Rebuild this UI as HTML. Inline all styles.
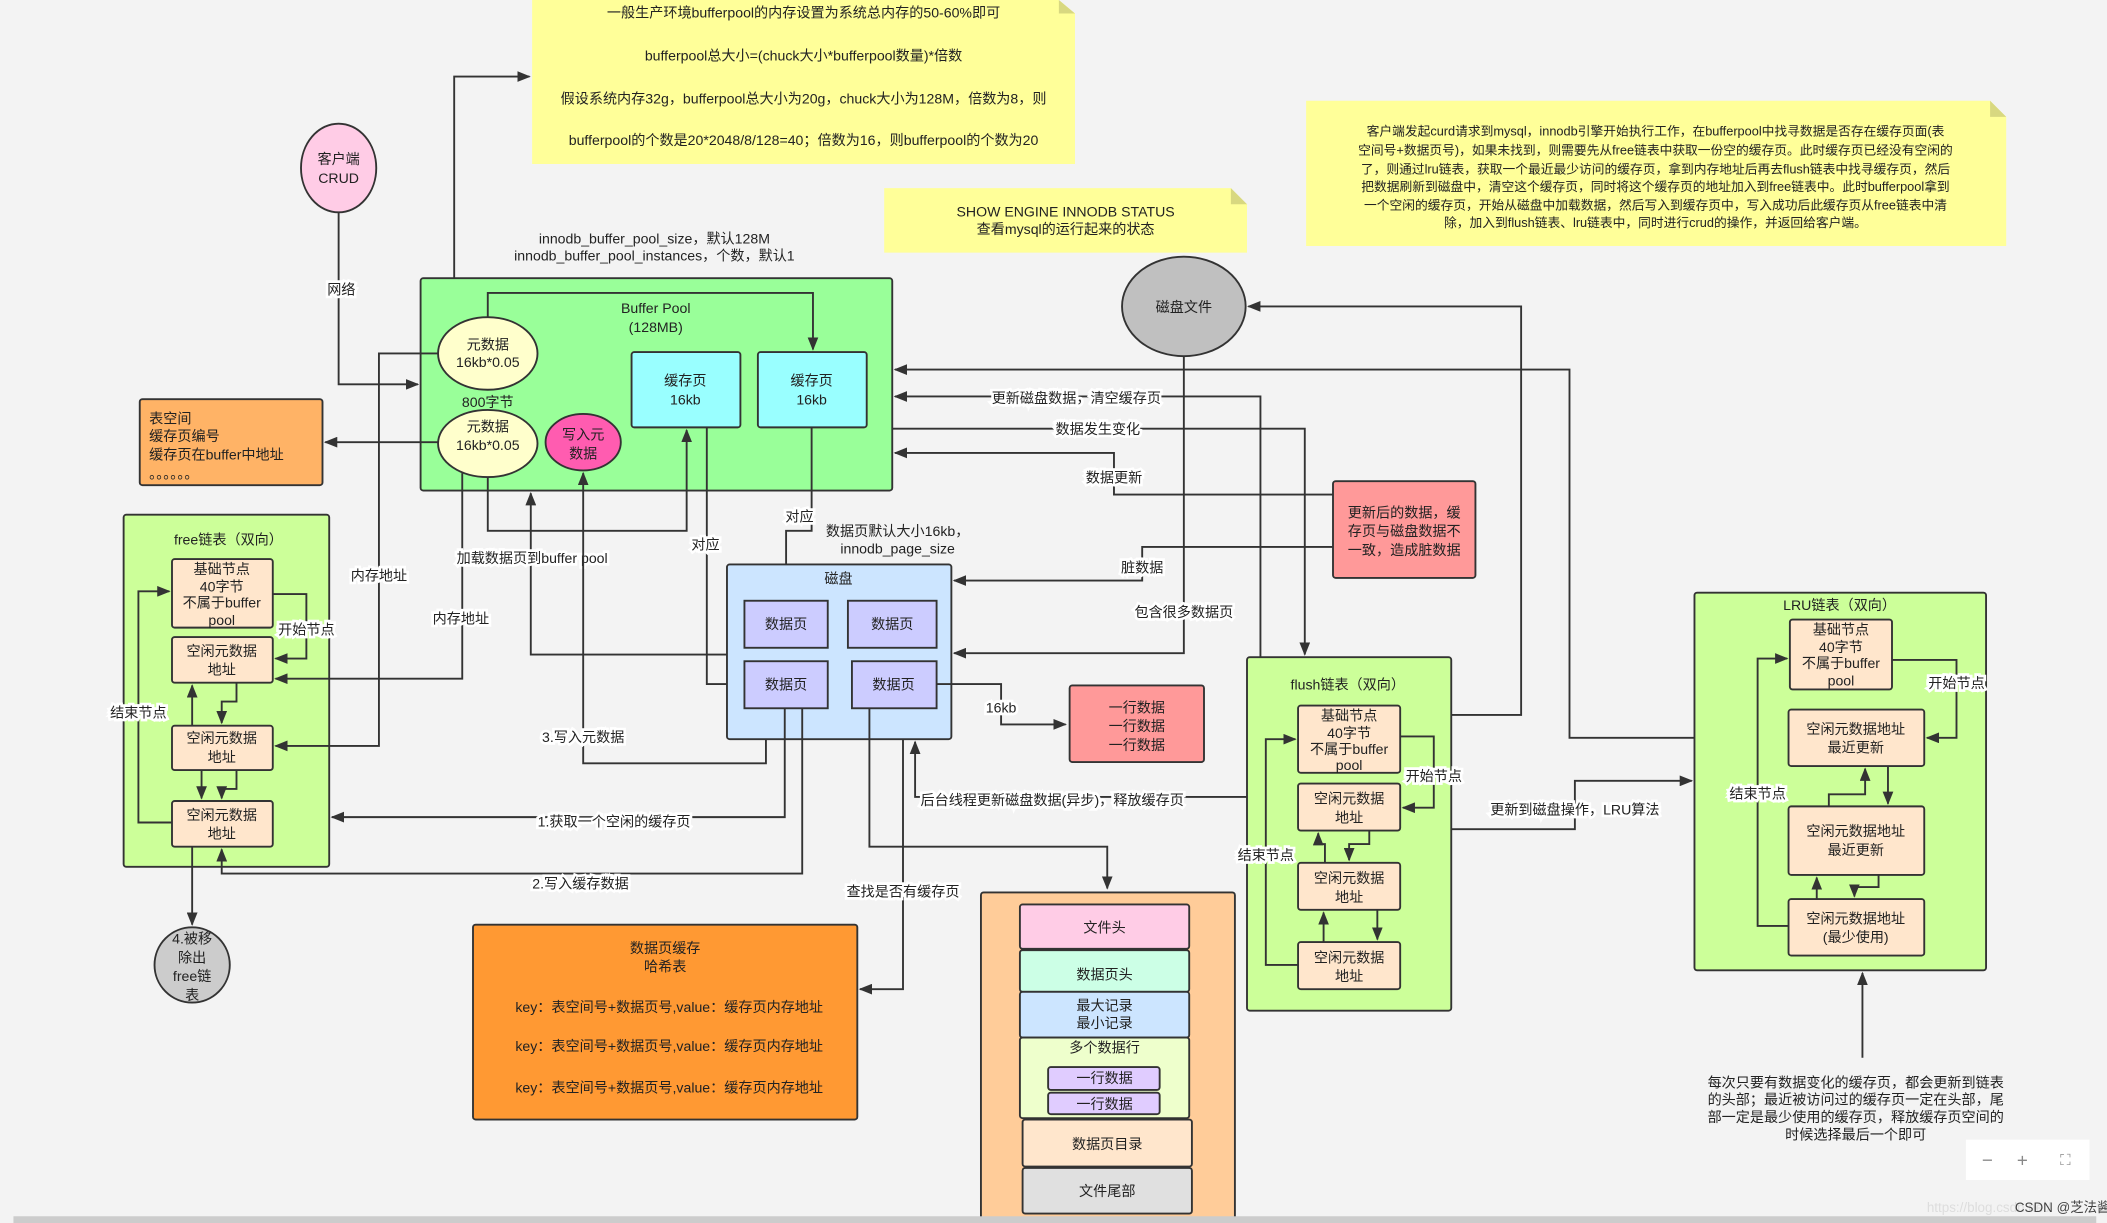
<!DOCTYPE html>
<html><head><meta charset="utf-8"><style>
html,body{margin:0;padding:0;background:#f3f3f3;}
svg{display:block}
text{font-family:"Liberation Sans","Noto Sans CJK SC",sans-serif;font-size:10.5px;fill:#222;text-anchor:middle;}
.l{fill:none;stroke:#333;stroke-width:1.4}
.b{stroke:#333;stroke-width:1.4}
.lab{paint-order:stroke;stroke:#fff;stroke-width:4px;stroke-linejoin:miter}
.s{font-size:9.5px}
</style></head><body>
<svg width="2107" height="1223" viewBox="0 0 1568 910" preserveAspectRatio="none" xmlns="http://www.w3.org/2000/svg">
<defs><marker id="a" markerWidth="10" markerHeight="8" refX="9" refY="4" orient="auto" markerUnits="userSpaceOnUse"><path d="M0,0 L10,4 L0,8 z" fill="#333"/></marker></defs>
<rect width="1568" height="910" fill="#f3f3f3"/>

<!-- yellow notes -->
<path d="M396,0 H788 L800,10 V122 H396 Z" fill="#ffff99"/><path d="M788,0 L800,10 H788 Z" fill="#d8d880"/>
<text x="598" y="13">一般生产环境bufferpool的内存设置为系统总内存的50-60%即可</text>
<text x="598" y="45">bufferpool总大小=(chuck大小*bufferpool数量)*倍数</text>
<text x="598" y="77">假设系统内存32g，bufferpool总大小为20g，chuck大小为128M，倍数为8，则</text>
<text x="598" y="108">bufferpool的个数是20*2048/8/128=40；倍数为16，则bufferpool的个数为20</text>

<path d="M658,140 H916 L928,152 V188 H658 Z" fill="#ffff99"/><path d="M916,140 L928,152 H916 Z" fill="#d8d880"/>
<text x="793" y="161">SHOW ENGINE INNODB STATUS</text>
<text x="793" y="174">查看mysql的运行起来的状态</text>

<path d="M972,75 H1481 L1493,87 V183 H972 Z" fill="#ffff99"/><path d="M1481,75 L1493,87 H1481 Z" fill="#d8d880"/>
<g class="s"><text x="1232" y="101" class="s">客户端发起curd请求到mysql，innodb引擎开始执行工作，在bufferpool中找寻数据是否存在缓存页面(表</text>
<text x="1232" y="115" class="s">空间号+数据页号)，如果未找到，则需要先从free链表中获取一份空的缓存页。此时缓存页已经没有空闲的</text>
<text x="1232" y="129" class="s">了，则通过lru链表，获取一个最近最少访问的缓存页，拿到内存地址后再去flush链表中找寻缓存页，然后</text>
<text x="1232" y="142" class="s">把数据刷新到磁盘中，清空这个缓存页，同时将这个缓存页的地址加入到free链表中。此时bufferpool拿到</text>
<text x="1232" y="156" class="s">一个空闲的缓存页，开始从磁盘中加载数据，然后写入到缓存页中，写入成功后此缓存页从free链表中清</text>
<text x="1232" y="169" class="s">除，加入到flush链表、lru链表中，同时进行crud的操作，并返回给客户端。</text></g>

<!-- client -->
<ellipse cx="252" cy="125" rx="28" ry="33" fill="#ffcce6" class="b"/>
<text x="252" y="122">客户端</text><text x="252" y="136">CRUD</text>
<path class="l" d="M252,158 V286 H311" marker-end="url(#a)"/>
<text x="254" y="219" class="lab">网络</text>

<text x="487" y="181">innodb_buffer_pool_size，默认128M</text>
<text x="487" y="194">innodb_buffer_pool_instances，个数，默认1</text>

<!-- buffer pool -->
<rect x="313" y="207" width="351" height="158" rx="2" fill="#99ff99" class="b"/>
<text x="488" y="233">Buffer Pool</text><text x="488" y="247">(128MB)</text>
<path class="l" d="M338,207 V57 H394" marker-end="url(#a)"/>
<path class="l" d="M363,236 V218 H605 V260" marker-end="url(#a)"/>
<ellipse cx="363" cy="263" rx="37" ry="27" fill="#ffffcc" class="b"/>
<text x="363" y="260">元数据</text><text x="363" y="273">16kb*0.05</text>
<text x="363" y="303">800字节</text>
<ellipse cx="363" cy="330" rx="37" ry="25" fill="#ffffcc" class="b"/>
<text x="363" y="321">元数据</text><text x="363" y="335">16kb*0.05</text>
<ellipse cx="434" cy="329" rx="28" ry="21" fill="#ff5cb0" class="b"/>
<text x="434" y="327">写入元</text><text x="434" y="341">数据</text>
<rect x="470" y="262" width="81" height="56" rx="2" fill="#99ffff" class="b"/>
<text x="510" y="287">缓存页</text><text x="510" y="301">16kb</text>
<rect x="564" y="262" width="81" height="56" rx="2" fill="#99ffff" class="b"/>
<text x="604" y="287">缓存页</text><text x="604" y="301">16kb</text>

<!-- orange table -->
<rect x="104" y="297" width="136" height="64" rx="2" fill="#ffb366" class="b"/>
<g style="text-anchor:start"><text x="111" y="315" style="text-anchor:start">表空间</text>
<text x="111" y="328" style="text-anchor:start">缓存页编号</text>
<text x="111" y="342" style="text-anchor:start">缓存页在buffer中地址</text>
<text x="111" y="356" style="text-anchor:start">。。。。。。</text></g>
<path class="l" d="M326,329 H242" marker-end="url(#a)"/>

<!-- free list -->
<rect x="92" y="383" width="153" height="262" rx="2" fill="#ccff99" class="b"/>
<text x="170" y="405">free链表（双向）</text>
<rect x="128" y="416" width="75" height="51" rx="2" fill="#ffe6cc" class="b"/>
<text x="165" y="427">基础节点</text><text x="165" y="440">40字节</text><text x="165" y="452">不属于buffer</text><text x="165" y="465">pool</text>
<rect x="128" y="474" width="75" height="34" rx="2" fill="#ffe6cc" class="b"/>
<text x="165" y="488">空闲元数据</text><text x="165" y="502">地址</text>
<rect x="128" y="540" width="75" height="33" rx="2" fill="#ffe6cc" class="b"/>
<text x="165" y="553">空闲元数据</text><text x="165" y="567">地址</text>
<rect x="128" y="596" width="75" height="34" rx="2" fill="#ffe6cc" class="b"/>
<text x="165" y="610">空闲元数据</text><text x="165" y="624">地址</text>
<path class="l" d="M203,442 H228 V490 H205" marker-end="url(#a)"/>
<text x="228" y="472" class="lab">开始节点</text>
<path class="l" d="M128,612 H103 V440 H126" marker-end="url(#a)"/>
<text x="103" y="534" class="lab">结束节点</text>
<path class="l" d="M176,508 V522 H165 V538" marker-end="url(#a)"/>
<path class="l" d="M143,540 V510" marker-end="url(#a)"/>
<path class="l" d="M150,573 V594" marker-end="url(#a)"/>
<path class="l" d="M176,573 V587 H165 V594" marker-end="url(#a)"/>
<path class="l" d="M143,630 V688" marker-end="url(#a)"/>
<ellipse cx="143" cy="718" rx="28" ry="28" fill="#cccccc" class="b"/>
<text x="143" y="702">4.被移</text><text x="143" y="716">除出</text><text x="143" y="730">free链</text><text x="143" y="744">表</text>

<!-- BP to free list -->
<path class="l" d="M326,263 H282 V555 H205" marker-end="url(#a)"/>
<text x="282" y="432" class="lab">内存地址</text>
<path class="l" d="M344,352 V505 H205" marker-end="url(#a)"/>
<text x="343" y="464" class="lab">内存地址</text>
<path class="l" d="M363,355 V395 H511 V320" marker-end="url(#a)"/>
<path class="l" d="M541,487 H395 V367" marker-end="url(#a)"/>
<text x="396" y="419" class="lab">加载数据页到buffer pool</text>
<path class="l" d="M570,527 V568 H434 V352" marker-end="url(#a)"/>
<text x="434" y="552" class="lab">3.写入元数据</text>
<path class="l" d="M526,318 V509 H552" marker-end="url(#a)"/>
<text x="525" y="409" class="lab">对应</text>
<path class="l" d="M604,318 V395 H585 V444" marker-end="url(#a)"/>
<text x="595" y="388" class="lab">对应</text>

<!-- disk -->
<text x="668" y="399">数据页默认大小16kb，</text><text x="668" y="412">innodb_page_size</text>
<rect x="541" y="420" width="167" height="130" rx="2" fill="#cce5ff" class="b"/>
<text x="624" y="434">磁盘</text>
<rect x="554" y="447" width="62" height="35" fill="#ccccff" class="b"/><text x="585" y="468">数据页</text>
<rect x="631" y="447" width="66" height="35" fill="#ccccff" class="b"/><text x="664" y="468">数据页</text>
<rect x="554" y="492" width="62" height="35" fill="#ccccff" class="b"/><text x="585" y="513">数据页</text>
<rect x="634" y="492" width="63" height="35" fill="#ccccff" class="b"/><text x="665" y="513">数据页</text>
<path class="l" d="M697,509 H745 V539 H793" marker-end="url(#a)"/>
<text x="745" y="530" class="lab">16kb</text>
<rect x="796" y="510" width="100" height="57" rx="2" fill="#ff9999" class="b"/>
<text x="846" y="530">一行数据</text><text x="846" y="544">一行数据</text><text x="846" y="558">一行数据</text>
<path class="l" d="M584,527 V608 H247" marker-end="url(#a)"/>
<text x="457" y="615" class="lab">1.获取一个空闲的缓存页</text>
<path class="l" d="M597,527 V650 H165 V632" marker-end="url(#a)"/>
<text x="432" y="661" class="lab">2.写入缓存数据</text>
<path class="l" d="M672,550 V736 H640" marker-end="url(#a)"/>
<text x="672" y="667" class="lab">查找是否有缓存页</text>
<path class="l" d="M647,527 V630 H824 V661" marker-end="url(#a)"/>
<path class="l" d="M928,593 H681 V552" marker-end="url(#a)"/>
<text x="783" y="599" class="lab">后台线程更新磁盘数据(异步)，释放缓存页</text>

<!-- hash -->
<rect x="352" y="688" width="286" height="145" rx="2" fill="#ff9933" class="b"/>
<text x="495" y="709">数据页缓存</text><text x="495" y="723">哈希表</text>
<text x="498" y="753">key：表空间号+数据页号,value：缓存页内存地址</text>
<text x="498" y="782">key：表空间号+数据页号,value：缓存页内存地址</text>
<text x="498" y="813">key：表空间号+数据页号,value：缓存页内存地址</text>

<!-- page structure -->
<rect x="730" y="664" width="189" height="250" rx="2" fill="#ffcc99" class="b"/>
<rect x="759" y="673" width="126" height="33" rx="2" fill="#ffcce6" class="b"/><text x="822" y="694">文件头</text>
<rect x="759" y="707" width="126" height="31" rx="2" fill="#ccffe6" class="b"/><text x="822" y="729">数据页头</text>
<rect x="759" y="738" width="126" height="34" rx="2" fill="#cce5ff" class="b"/><text x="822" y="752">最大记录</text><text x="822" y="765">最小记录</text>
<rect x="759" y="772" width="126" height="60" rx="2" fill="#eeffcc" class="b"/><text x="822" y="783">多个数据行</text>
<rect x="780" y="794" width="83" height="17" rx="2" fill="#e0ccff" class="b"/><text x="822" y="806">一行数据</text>
<rect x="780" y="813" width="83" height="16" rx="2" fill="#e0ccff" class="b"/><text x="822" y="825">一行数据</text>
<rect x="761" y="833" width="126" height="35" rx="2" fill="#ffe6cc" class="b"/><text x="824" y="855">数据页目录</text>
<rect x="761" y="869" width="126" height="34" rx="2" fill="#e0e0e0" class="b"/><text x="824" y="890">文件尾部</text>

<!-- disk file -->
<ellipse cx="881" cy="228" rx="46" ry="37" fill="#c0c0c0" class="b"/>
<text x="881" y="232">磁盘文件</text>
<path class="l" d="M881,265 V486 H710" marker-end="url(#a)"/>
<text x="881" y="459" class="lab">包含很多数据页</text>
<path class="l" d="M1080,532 H1132 V228 H929" marker-end="url(#a)"/>

<!-- right arrows into BP -->
<path class="l" d="M1331,549 H1168 V275 H666" marker-end="url(#a)"/>
<path class="l" d="M938,489 V295 H666" marker-end="url(#a)"/>
<text x="801" y="300" class="lab">更新磁盘数据，清空缓存页</text>
<path class="l" d="M664,319 H971 V487" marker-end="url(#a)"/>
<text x="817" y="323" class="lab">数据发生变化</text>
<path class="l" d="M992,368 H829 V337 H666" marker-end="url(#a)"/>
<text x="829" y="359" class="lab">数据更新</text>
<path class="l" d="M992,407 H850 V432 H710" marker-end="url(#a)"/>
<text x="850" y="426" class="lab">脏数据</text>

<rect x="992" y="358" width="106" height="72" rx="2" fill="#ff9999" class="b"/>
<text x="1045" y="385">更新后的数据，缓</text><text x="1045" y="399">存页与磁盘数据不</text><text x="1045" y="413">一致，造成脏数据</text>

<!-- flush -->
<rect x="928" y="489" width="152" height="263" rx="2" fill="#ccff99" class="b"/>
<text x="1003" y="513">flush链表（双向）</text>
<rect x="966" y="525" width="76" height="50" rx="2" fill="#ffe6cc" class="b"/>
<text x="1004" y="536">基础节点</text><text x="1004" y="549">40字节</text><text x="1004" y="561">不属于buffer</text><text x="1004" y="573">pool</text>
<rect x="966" y="583" width="76" height="35" rx="2" fill="#ffe6cc" class="b"/><text x="1004" y="598">空闲元数据</text><text x="1004" y="612">地址</text>
<rect x="966" y="642" width="76" height="35" rx="2" fill="#ffe6cc" class="b"/><text x="1004" y="657">空闲元数据</text><text x="1004" y="671">地址</text>
<rect x="966" y="701" width="76" height="35" rx="2" fill="#ffe6cc" class="b"/><text x="1004" y="716">空闲元数据</text><text x="1004" y="730">地址</text>
<path class="l" d="M1042,548 H1067 V601 H1044" marker-end="url(#a)"/>
<text x="1067" y="581" class="lab">开始节点</text>
<path class="l" d="M966,718 H942 V550 H964" marker-end="url(#a)"/>
<text x="942" y="640" class="lab">结束节点</text>
<path class="l" d="M986,642 V628 H981 V620" marker-end="url(#a)"/>
<path class="l" d="M1019,618 V628 H1004 V640" marker-end="url(#a)"/>
<path class="l" d="M985,701 V679" marker-end="url(#a)"/>
<path class="l" d="M1025,677 V699" marker-end="url(#a)"/>
<path class="l" d="M1080,617 H1172 V581 H1259" marker-end="url(#a)"/>
<text x="1172" y="606" class="lab">更新到磁盘操作，LRU算法</text>

<!-- LRU -->
<rect x="1261" y="441" width="217" height="281" rx="2" fill="#ccff99" class="b"/>
<text x="1369" y="454">LRU链表（双向）</text>
<rect x="1332" y="461" width="76" height="52" rx="2" fill="#ffe6cc" class="b"/>
<text x="1370" y="472">基础节点</text><text x="1370" y="485">40字节</text><text x="1370" y="497">不属于buffer</text><text x="1370" y="510">pool</text>
<rect x="1331" y="528" width="101" height="42" rx="2" fill="#ffe6cc" class="b"/><text x="1381" y="546">空闲元数据地址</text><text x="1381" y="560">最近更新</text>
<rect x="1331" y="600" width="101" height="51" rx="2" fill="#ffe6cc" class="b"/><text x="1381" y="622">空闲元数据地址</text><text x="1381" y="636">最近更新</text>
<rect x="1331" y="669" width="101" height="42" rx="2" fill="#ffe6cc" class="b"/><text x="1381" y="687">空闲元数据地址</text><text x="1381" y="701">(最少使用)</text>
<path class="l" d="M1408,491 H1456 V549 H1434" marker-end="url(#a)"/>
<text x="1456" y="512" class="lab">开始节点</text>
<path class="l" d="M1331,689 H1308 V490 H1330" marker-end="url(#a)"/>
<text x="1308" y="594" class="lab">结束节点</text>
<path class="l" d="M1361,600 V591 H1388 V572" marker-end="url(#a)"/>
<path class="l" d="M1405,570 V598" marker-end="url(#a)"/>
<path class="l" d="M1352,669 V653" marker-end="url(#a)"/>
<path class="l" d="M1398,651 V660 H1380 V667" marker-end="url(#a)"/>
<path class="l" d="M1386,787 V724" marker-end="url(#a)"/>
<text x="1381" y="809">每次只要有数据变化的缓存页，都会更新到链表</text>
<text x="1381" y="822">的头部；最近被访问过的缓存页一定在头部，尾</text>
<text x="1381" y="835">部一定是最少使用的缓存页，释放缓存页空间的</text>
<text x="1381" y="848">时候选择最后一个即可</text>

<!-- widget -->
<rect x="1463" y="848" width="92" height="30" fill="#fff"/>
<text x="1479" y="868" style="fill:#888;font-size:14px">−</text>
<text x="1505" y="868" style="fill:#888;font-size:14px">+</text>
<text x="1537" y="867" style="fill:#888;font-size:11px">⛶</text>
<text x="1480" y="902" style="fill:#ddd;font-size:10px">https://blog.csdn.net/</text>
<text x="1535" y="902" style="fill:#444;font-size:10px">CSDN @芝法酱</text>
<rect x="10" y="905" width="1550" height="5" fill="#cccccc"/>
</svg>
</body></html>
